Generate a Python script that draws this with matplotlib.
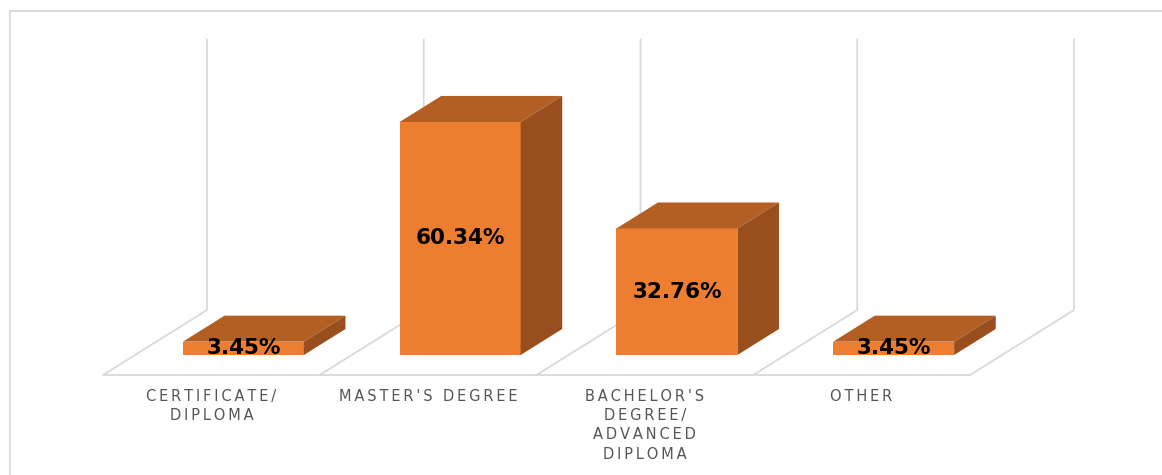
import matplotlib
matplotlib.use("Agg")
import matplotlib.pyplot as plt
from matplotlib.patches import Polygon
from matplotlib.lines import Line2D

categories = ["CERTIFICATE/\nDIPLOMA", "MASTER'S DEGREE",
              "BACHELOR'S\nDEGREE/\nADVANCED\nDIPLOMA", "OTHER"]
values = [3.45, 60.34, 32.76, 3.45]
labels = ["3.45%", "60.34%", "32.76%", "3.45%"]
y_max = 70

W, H = 1162, 475
# pixel layout of the 3d box
X0, Y0 = 103, 375          # front-left corner of the floor
CELL = 216.75              # width of one category on the front edge
VS = 3.862                 # pixels per percent
DEPTH_X, DEPTH_Y = 104, 65  # offset from the front edge to the back wall

# axes in category / value units
dx = DEPTH_X / CELL
dy = DEPTH_Y / VS
d_front, d_back = 20 / 65, 46 / 65
bar_w = 121 / CELL

front_c = "#ED7D31"
top_c = "#B35E23"
side_c = "#994F1D"
grid_c = "#D9D9D9"


def proj(x, v, d):
    return x + d * dx, v + d * dy


fig = plt.figure(figsize=(W / 100, H / 100), dpi=100)
ax = fig.add_axes([0, 0, 1, 1])
ax.set_xlim(-X0 / CELL, (W - X0) / CELL)
ax.set_ylim(-(H - Y0) / VS, Y0 / VS)
ax.axis("off")

# chart frame
fig.add_artist(Line2D([10 / W, 1], [1 - 11 / H, 1 - 11 / H],
                      transform=fig.transFigure, color=grid_c, lw=1.3))
fig.add_artist(Line2D([10 / W, 10 / W], [0, 1 - 11 / H],
                      transform=fig.transFigure, color=grid_c, lw=1.3))

# floor front edge
n = len(categories)
ax.plot([0, n], [0, 0], color=grid_c, lw=1.3, solid_capstyle="butt")
# floor and back wall gridlines at category boundaries
for k in range(n + 1):
    xa, ya = proj(k, 0, 0)
    xb, yb = proj(k, 0, 1)
    xc, yc = proj(k, y_max, 1)
    ax.plot([xa, xb, xc], [ya, yb, yc], color=grid_c, lw=1.3)

for i, (v, lab) in enumerate(zip(values, labels)):
    cx = i + 0.5
    x1, x2 = cx - bar_w / 2, cx + bar_w / 2
    f = [proj(x1, 0, d_front), proj(x2, 0, d_front),
         proj(x2, v, d_front), proj(x1, v, d_front)]
    t = [proj(x1, v, d_front), proj(x2, v, d_front),
         proj(x2, v, d_back), proj(x1, v, d_back)]
    s = [proj(x2, 0, d_front), proj(x2, 0, d_back),
         proj(x2, v, d_back), proj(x2, v, d_front)]
    ax.add_patch(Polygon(f, closed=True, facecolor=front_c, edgecolor="none", zorder=3))
    ax.add_patch(Polygon(t, closed=True, facecolor=top_c, edgecolor="none", zorder=3))
    ax.add_patch(Polygon(s, closed=True, facecolor=side_c, edgecolor="none", zorder=3))

    lx, ly = proj(cx, v / 2, d_front)
    ax.text(lx, ly, lab, ha="center", va="center", fontsize=15.5,
            fontweight="bold", color="black", zorder=5)

    # spaced-out category label under the floor
    spaced = "\n".join("\u2009".join(line) for line in categories[i].split("\n"))
    ax.text(cx, -14 / VS, spaced, ha="center", va="top", fontsize=10.5,
            color="#555555", linespacing=1.35)

fig.savefig("out.png", dpi=100)
